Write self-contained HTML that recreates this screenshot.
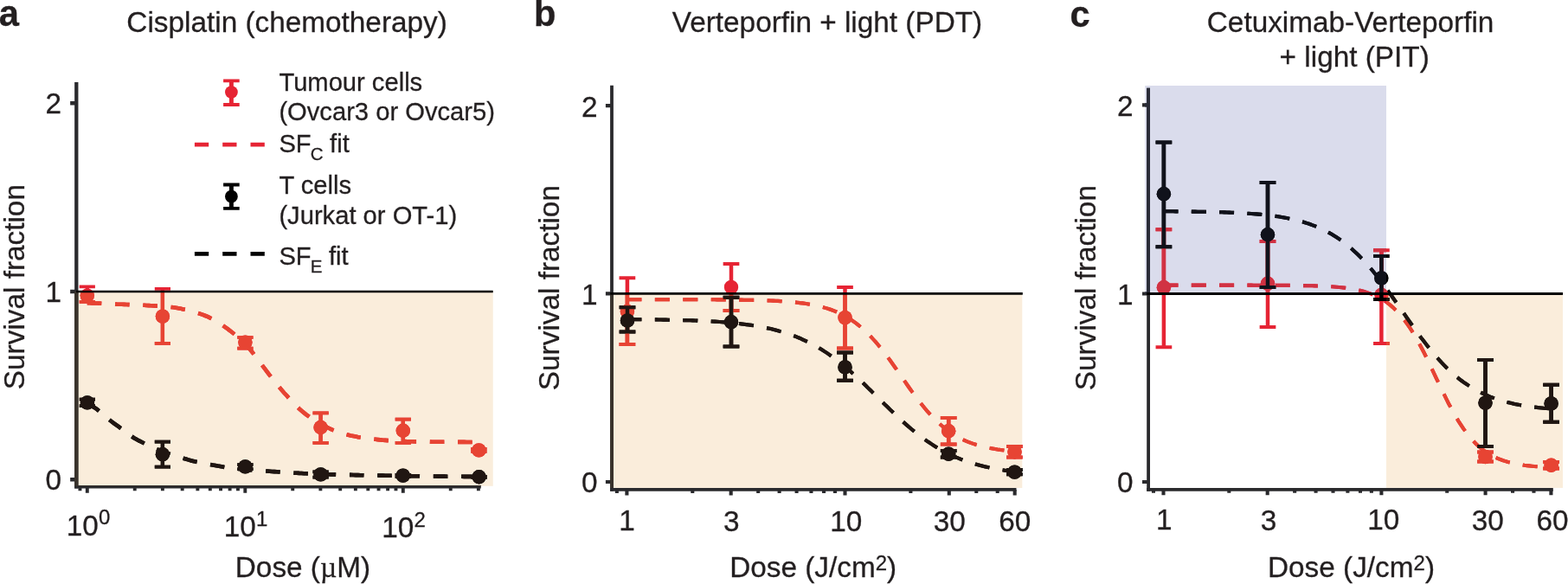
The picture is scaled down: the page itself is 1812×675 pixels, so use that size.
<!DOCTYPE html>
<html lang="en"><head><meta charset="utf-8"><title>Survival fraction vs dose</title>
<style>html,body{margin:0;padding:0;background:#fff}body{width:1812px;height:675px;overflow:hidden}svg{display:block}</style></head>
<body>
<svg width="1812" height="675" viewBox="0 0 1812 675" font-family='"Liberation Sans", sans-serif' fill="#231f20">
<style>.n .R{stroke:#e62434;fill:#e62434}.n .K{stroke:#000000;fill:#000000}.n .A{stroke:#2a2a2d;fill:none}.b .R{stroke:#e74433;fill:#e74433}.b .K{stroke:#201612;fill:#201612}.b .A{stroke:#39332c;fill:none}.l .R{stroke:#d13243;fill:#d13243}.l .K{stroke:#10121b;fill:#10121b}.l .A{stroke:#2a2c38;fill:none}.C{fill:none!important}circle{stroke:none!important}text{stroke:#231f20;stroke-width:.3px}</style>
<rect width="1812" height="675" fill="#fff"/>
<defs><clipPath id="cpa0"><rect x="86" y="337" width="483.70" height="224.80"/></clipPath></defs>
<rect x="86" y="337" width="483.70" height="224.80" fill="#faeddb"/>
<g class="n"><g class="A" stroke-width="4.3"><path d="M88.3,95V564.60"/><path d="M86.15,562.85H555.8" stroke-width="3.5"/><path d="M81.15,554.30H88.3M81.15,337.00H88.3M81.15,119.20H88.3" stroke-width="4.4"/><path d="M100.80,562.85v6.95M283.30,562.85v6.95M465.80,562.85v6.95M92.45,562.85v4.35M155.74,562.85v4.35M187.87,562.85v4.35M210.68,562.85v4.35M228.36,562.85v4.35M242.81,562.85v4.35M255.03,562.85v4.35M265.61,562.85v4.35M274.95,562.85v4.35M338.24,562.85v4.35M370.37,562.85v4.35M393.18,562.85v4.35M410.86,562.85v4.35M425.31,562.85v4.35M437.53,562.85v4.35M448.11,562.85v4.35M457.45,562.85v4.35M520.74,562.85v4.35M552.87,562.85v4.35" stroke-width="3.9"/></g><path class="R C" d="M100.8,350.2 L103.6,350.3 L106.5,350.4 L109.3,350.5 L112.2,350.5 L115.0,350.6 L117.9,350.8 L120.7,350.9 L123.6,351.0 L126.4,351.1 L129.3,351.3 L132.1,351.4 L135.0,351.6 L137.8,351.7 L140.7,351.8 L143.5,351.9 L146.3,352.0 L149.2,352.1 L152.0,352.3 L154.9,352.4 L157.7,352.5 L160.6,352.6 L163.4,352.7 L166.3,352.8 L169.1,353.0 L172.0,353.1 L174.8,353.2 L177.7,353.4 L180.5,353.6 L183.3,353.7 L186.2,353.9 L189.0,354.1 L191.9,354.4 L194.7,354.6 L197.6,355.0 L200.4,355.3 L203.3,355.7 L206.1,356.2 L209.0,356.8 L211.8,357.4 L214.7,358.0 L217.5,358.7 L220.4,359.4 L223.2,360.1 L226.0,361.0 L228.9,361.9 L231.7,362.8 L234.6,363.9 L237.4,365.0 L240.3,366.2 L243.1,367.6 L246.0,369.1 L248.8,370.7 L251.7,372.4 L254.5,374.3 L257.4,376.2 L260.2,378.2 L263.1,380.2 L265.9,382.3 L268.7,384.5 L271.6,386.8 L274.4,389.1 L277.3,391.6 L280.1,394.3 L283.0,397.1 L285.8,400.2 L288.7,403.5 L291.5,407.0 L294.4,410.7 L297.2,414.4 L300.1,418.2 L302.9,422.0 L305.8,425.8 L308.6,429.6 L311.4,433.3 L314.3,437.0 L317.1,440.6 L320.0,444.2 L322.8,447.6 L325.7,450.9 L328.5,454.2 L331.4,457.3 L334.2,460.5 L337.1,463.6 L339.9,466.6 L342.8,469.5 L345.6,472.2 L348.4,474.7 L351.3,477.1 L354.1,479.3 L357.0,481.4 L359.8,483.5 L362.7,485.4 L365.5,487.3 L368.4,489.0 L371.2,490.6 L374.1,492.0 L376.9,493.4 L379.8,494.8 L382.6,496.1 L385.5,497.3 L388.3,498.4 L391.1,499.4 L394.0,500.4 L396.8,501.2 L399.7,502.0 L402.5,502.7 L405.4,503.4 L408.2,504.0 L411.1,504.6 L413.9,505.2 L416.8,505.6 L419.6,506.1 L422.5,506.5 L425.3,506.9 L428.2,507.2 L431.0,507.5 L433.8,507.8 L436.7,508.1 L439.5,508.4 L442.4,508.7 L445.2,508.9 L448.1,509.1 L450.9,509.3 L453.8,509.5 L456.6,509.6 L459.5,509.8 L462.3,509.9 L465.2,510.0 L468.0,510.1 L470.9,510.2 L473.7,510.3 L476.5,510.3 L479.4,510.4 L482.2,510.4 L485.1,510.5 L487.9,510.5 L490.8,510.6 L493.6,510.6 L496.5,510.6 L499.3,510.7 L502.2,510.7 L505.0,510.7 L507.9,510.7 L510.7,510.8 L513.5,510.8 L516.4,510.8 L519.2,510.8 L522.1,510.9 L524.9,510.9 L527.8,510.9 L530.6,510.9 L533.5,510.9 L536.3,510.9 L539.2,511.0 L542.0,511.0 L544.9,511.0 L547.7,511.0 L550.6,511.0 L553.4,511.0" stroke-width="4.6" stroke-dasharray="16.5 15.8" stroke-dashoffset="0"/><path class="K C" d="M100.8,465.8 L103.6,468.1 L106.5,469.5 L109.3,471.2 L112.2,473.2 L115.0,475.5 L117.9,477.9 L120.7,480.4 L123.6,482.8 L126.4,485.2 L129.3,487.5 L132.1,489.6 L135.0,491.7 L137.8,493.7 L140.7,495.8 L143.5,498.0 L146.3,500.2 L149.2,502.3 L152.0,504.3 L154.9,506.2 L157.7,507.8 L160.6,509.4 L163.4,510.8 L166.3,512.2 L169.1,513.6 L172.0,514.9 L174.8,516.2 L177.7,517.5 L180.5,518.8 L183.3,520.0 L186.2,521.2 L189.0,522.3 L191.9,523.3 L194.7,524.3 L197.6,525.3 L200.4,526.2 L203.3,527.1 L206.1,528.0 L209.0,528.9 L211.8,529.7 L214.7,530.5 L217.5,531.4 L220.4,532.2 L223.2,532.9 L226.0,533.6 L228.9,534.2 L231.7,534.8 L234.6,535.4 L237.4,535.9 L240.3,536.4 L243.1,536.9 L246.0,537.5 L248.8,538.0 L251.7,538.6 L254.5,539.1 L257.4,539.6 L260.2,540.1 L263.1,540.5 L265.9,540.8 L268.7,541.2 L271.6,541.5 L274.4,541.8 L277.3,542.0 L280.1,542.3 L283.0,542.6 L285.8,542.8 L288.7,543.1 L291.5,543.3 L294.4,543.5 L297.2,543.7 L300.1,544.0 L302.9,544.2 L305.8,544.4 L308.6,544.6 L311.4,544.8 L314.3,545.0 L317.1,545.1 L320.0,545.3 L322.8,545.5 L325.7,545.7 L328.5,545.9 L331.4,546.1 L334.2,546.2 L337.1,546.4 L339.9,546.6 L342.8,546.7 L345.6,546.9 L348.4,547.0 L351.3,547.2 L354.1,547.3 L357.0,547.5 L359.8,547.6 L362.7,547.7 L365.5,547.8 L368.4,547.9 L371.2,548.0 L374.1,548.1 L376.9,548.2 L379.8,548.3 L382.6,548.4 L385.5,548.4 L388.3,548.5 L391.1,548.6 L394.0,548.7 L396.8,548.7 L399.7,548.8 L402.5,548.9 L405.4,548.9 L408.2,549.0 L411.1,549.1 L413.9,549.1 L416.8,549.2 L419.6,549.2 L422.5,549.3 L425.3,549.3 L428.2,549.4 L431.0,549.4 L433.8,549.5 L436.7,549.5 L439.5,549.6 L442.4,549.6 L445.2,549.7 L448.1,549.7 L450.9,549.8 L453.8,549.8 L456.6,549.9 L459.5,549.9 L462.3,549.9 L465.2,550.0 L468.0,550.0 L470.9,550.1 L473.7,550.1 L476.5,550.2 L479.4,550.2 L482.2,550.2 L485.1,550.3 L487.9,550.3 L490.8,550.4 L493.6,550.4 L496.5,550.4 L499.3,550.5 L502.2,550.5 L505.0,550.5 L507.9,550.6 L510.7,550.6 L513.5,550.6 L516.4,550.7 L519.2,550.7 L522.1,550.7 L524.9,550.8 L527.8,550.8 L530.6,550.8 L533.5,550.8 L536.3,550.9 L539.2,550.9 L542.0,550.9 L544.9,550.9 L547.7,551.0 L550.6,551.0 L553.4,551.0" stroke-width="4.6" stroke-dasharray="16.5 15.8" stroke-dashoffset="0"/><g class="R"><path d="M100.8,331.3V348.9" stroke-width="4.3"/><path d="M91.70,331.3h18.2M91.70,348.9h18.2" stroke-width="3.7"/><circle cx="100.8" cy="341.6" r="8.2"/></g><g class="R"><path d="M187.9,333.9V396.8" stroke-width="4.3"/><path d="M178.80,333.9h18.2M178.80,396.8h18.2" stroke-width="3.7"/><circle cx="187.9" cy="365.6" r="8.2"/></g><g class="R"><path d="M283.4,390V402.6" stroke-width="4.3"/><path d="M274.30,390h18.2M274.30,402.6h18.2" stroke-width="3.7"/><circle cx="283.4" cy="395.6" r="8.2"/></g><g class="R"><path d="M370.6,477.4V511.9" stroke-width="4.3"/><path d="M361.50,477.4h18.2M361.50,511.9h18.2" stroke-width="3.7"/><circle cx="370.6" cy="494" r="8.2"/></g><g class="R"><path d="M465.8,484.7V511.9" stroke-width="4.3"/><path d="M456.70,484.7h18.2M456.70,511.9h18.2" stroke-width="3.7"/><circle cx="465.8" cy="497.7" r="8.2"/></g><g class="R"><path d="M553.4,518.9V521.9" stroke-width="4.3"/><path d="M544.30,518.9h18.2M544.30,521.9h18.2" stroke-width="3.7"/><circle cx="553.4" cy="520.4" r="8.2"/></g><g class="K"><path d="M100.9,461.7V469.1" stroke-width="4.3"/><path d="M91.80,461.7h18.2M91.80,469.1h18.2" stroke-width="3.7"/><circle cx="100.9" cy="465.4" r="8.2"/></g><g class="K"><path d="M187.9,510.7V539.6" stroke-width="4.3"/><path d="M178.80,510.7h18.2M178.80,539.6h18.2" stroke-width="3.7"/><circle cx="187.9" cy="525.3" r="8.2"/></g><g class="K"><path d="M283.4,537.0V542.2" stroke-width="4.3"/><path d="M274.30,537.0h18.2M274.30,542.2h18.2" stroke-width="3.7"/><circle cx="283.4" cy="539.4" r="8.2"/></g><g class="K"><path d="M370.6,545.3V551.6" stroke-width="4.3"/><path d="M361.50,545.3h18.2M361.50,551.6h18.2" stroke-width="3.7"/><circle cx="370.6" cy="548.4" r="8.2"/></g><g class="K"><path d="M465.75,548.9V550.9" stroke-width="4.3"/><path d="M456.65,548.9h18.2M456.65,550.9h18.2" stroke-width="3.7"/><circle cx="465.75" cy="549.6" r="8.2"/></g><g class="K"><path d="M553.6,550.8V551.8" stroke-width="4.3"/><path d="M544.50,550.8h18.2M544.50,551.8h18.2" stroke-width="3.7"/><circle cx="553.6" cy="551.3" r="8.2"/></g></g>
<g class="b" clip-path="url(#cpa0)"><g class="A" stroke-width="4.3"><path d="M88.3,95V564.60"/><path d="M86.15,562.85H555.8" stroke-width="3.5"/><path d="M81.15,554.30H88.3M81.15,337.00H88.3M81.15,119.20H88.3" stroke-width="4.4"/><path d="M100.80,562.85v6.95M283.30,562.85v6.95M465.80,562.85v6.95M92.45,562.85v4.35M155.74,562.85v4.35M187.87,562.85v4.35M210.68,562.85v4.35M228.36,562.85v4.35M242.81,562.85v4.35M255.03,562.85v4.35M265.61,562.85v4.35M274.95,562.85v4.35M338.24,562.85v4.35M370.37,562.85v4.35M393.18,562.85v4.35M410.86,562.85v4.35M425.31,562.85v4.35M437.53,562.85v4.35M448.11,562.85v4.35M457.45,562.85v4.35M520.74,562.85v4.35M552.87,562.85v4.35" stroke-width="3.9"/></g><path class="R C" d="M100.8,350.2 L103.6,350.3 L106.5,350.4 L109.3,350.5 L112.2,350.5 L115.0,350.6 L117.9,350.8 L120.7,350.9 L123.6,351.0 L126.4,351.1 L129.3,351.3 L132.1,351.4 L135.0,351.6 L137.8,351.7 L140.7,351.8 L143.5,351.9 L146.3,352.0 L149.2,352.1 L152.0,352.3 L154.9,352.4 L157.7,352.5 L160.6,352.6 L163.4,352.7 L166.3,352.8 L169.1,353.0 L172.0,353.1 L174.8,353.2 L177.7,353.4 L180.5,353.6 L183.3,353.7 L186.2,353.9 L189.0,354.1 L191.9,354.4 L194.7,354.6 L197.6,355.0 L200.4,355.3 L203.3,355.7 L206.1,356.2 L209.0,356.8 L211.8,357.4 L214.7,358.0 L217.5,358.7 L220.4,359.4 L223.2,360.1 L226.0,361.0 L228.9,361.9 L231.7,362.8 L234.6,363.9 L237.4,365.0 L240.3,366.2 L243.1,367.6 L246.0,369.1 L248.8,370.7 L251.7,372.4 L254.5,374.3 L257.4,376.2 L260.2,378.2 L263.1,380.2 L265.9,382.3 L268.7,384.5 L271.6,386.8 L274.4,389.1 L277.3,391.6 L280.1,394.3 L283.0,397.1 L285.8,400.2 L288.7,403.5 L291.5,407.0 L294.4,410.7 L297.2,414.4 L300.1,418.2 L302.9,422.0 L305.8,425.8 L308.6,429.6 L311.4,433.3 L314.3,437.0 L317.1,440.6 L320.0,444.2 L322.8,447.6 L325.7,450.9 L328.5,454.2 L331.4,457.3 L334.2,460.5 L337.1,463.6 L339.9,466.6 L342.8,469.5 L345.6,472.2 L348.4,474.7 L351.3,477.1 L354.1,479.3 L357.0,481.4 L359.8,483.5 L362.7,485.4 L365.5,487.3 L368.4,489.0 L371.2,490.6 L374.1,492.0 L376.9,493.4 L379.8,494.8 L382.6,496.1 L385.5,497.3 L388.3,498.4 L391.1,499.4 L394.0,500.4 L396.8,501.2 L399.7,502.0 L402.5,502.7 L405.4,503.4 L408.2,504.0 L411.1,504.6 L413.9,505.2 L416.8,505.6 L419.6,506.1 L422.5,506.5 L425.3,506.9 L428.2,507.2 L431.0,507.5 L433.8,507.8 L436.7,508.1 L439.5,508.4 L442.4,508.7 L445.2,508.9 L448.1,509.1 L450.9,509.3 L453.8,509.5 L456.6,509.6 L459.5,509.8 L462.3,509.9 L465.2,510.0 L468.0,510.1 L470.9,510.2 L473.7,510.3 L476.5,510.3 L479.4,510.4 L482.2,510.4 L485.1,510.5 L487.9,510.5 L490.8,510.6 L493.6,510.6 L496.5,510.6 L499.3,510.7 L502.2,510.7 L505.0,510.7 L507.9,510.7 L510.7,510.8 L513.5,510.8 L516.4,510.8 L519.2,510.8 L522.1,510.9 L524.9,510.9 L527.8,510.9 L530.6,510.9 L533.5,510.9 L536.3,510.9 L539.2,511.0 L542.0,511.0 L544.9,511.0 L547.7,511.0 L550.6,511.0 L553.4,511.0" stroke-width="4.6" stroke-dasharray="16.5 15.8" stroke-dashoffset="0"/><path class="K C" d="M100.8,465.8 L103.6,468.1 L106.5,469.5 L109.3,471.2 L112.2,473.2 L115.0,475.5 L117.9,477.9 L120.7,480.4 L123.6,482.8 L126.4,485.2 L129.3,487.5 L132.1,489.6 L135.0,491.7 L137.8,493.7 L140.7,495.8 L143.5,498.0 L146.3,500.2 L149.2,502.3 L152.0,504.3 L154.9,506.2 L157.7,507.8 L160.6,509.4 L163.4,510.8 L166.3,512.2 L169.1,513.6 L172.0,514.9 L174.8,516.2 L177.7,517.5 L180.5,518.8 L183.3,520.0 L186.2,521.2 L189.0,522.3 L191.9,523.3 L194.7,524.3 L197.6,525.3 L200.4,526.2 L203.3,527.1 L206.1,528.0 L209.0,528.9 L211.8,529.7 L214.7,530.5 L217.5,531.4 L220.4,532.2 L223.2,532.9 L226.0,533.6 L228.9,534.2 L231.7,534.8 L234.6,535.4 L237.4,535.9 L240.3,536.4 L243.1,536.9 L246.0,537.5 L248.8,538.0 L251.7,538.6 L254.5,539.1 L257.4,539.6 L260.2,540.1 L263.1,540.5 L265.9,540.8 L268.7,541.2 L271.6,541.5 L274.4,541.8 L277.3,542.0 L280.1,542.3 L283.0,542.6 L285.8,542.8 L288.7,543.1 L291.5,543.3 L294.4,543.5 L297.2,543.7 L300.1,544.0 L302.9,544.2 L305.8,544.4 L308.6,544.6 L311.4,544.8 L314.3,545.0 L317.1,545.1 L320.0,545.3 L322.8,545.5 L325.7,545.7 L328.5,545.9 L331.4,546.1 L334.2,546.2 L337.1,546.4 L339.9,546.6 L342.8,546.7 L345.6,546.9 L348.4,547.0 L351.3,547.2 L354.1,547.3 L357.0,547.5 L359.8,547.6 L362.7,547.7 L365.5,547.8 L368.4,547.9 L371.2,548.0 L374.1,548.1 L376.9,548.2 L379.8,548.3 L382.6,548.4 L385.5,548.4 L388.3,548.5 L391.1,548.6 L394.0,548.7 L396.8,548.7 L399.7,548.8 L402.5,548.9 L405.4,548.9 L408.2,549.0 L411.1,549.1 L413.9,549.1 L416.8,549.2 L419.6,549.2 L422.5,549.3 L425.3,549.3 L428.2,549.4 L431.0,549.4 L433.8,549.5 L436.7,549.5 L439.5,549.6 L442.4,549.6 L445.2,549.7 L448.1,549.7 L450.9,549.8 L453.8,549.8 L456.6,549.9 L459.5,549.9 L462.3,549.9 L465.2,550.0 L468.0,550.0 L470.9,550.1 L473.7,550.1 L476.5,550.2 L479.4,550.2 L482.2,550.2 L485.1,550.3 L487.9,550.3 L490.8,550.4 L493.6,550.4 L496.5,550.4 L499.3,550.5 L502.2,550.5 L505.0,550.5 L507.9,550.6 L510.7,550.6 L513.5,550.6 L516.4,550.7 L519.2,550.7 L522.1,550.7 L524.9,550.8 L527.8,550.8 L530.6,550.8 L533.5,550.8 L536.3,550.9 L539.2,550.9 L542.0,550.9 L544.9,550.9 L547.7,551.0 L550.6,551.0 L553.4,551.0" stroke-width="4.6" stroke-dasharray="16.5 15.8" stroke-dashoffset="0"/><g class="R"><path d="M100.8,331.3V348.9" stroke-width="4.3"/><path d="M91.70,331.3h18.2M91.70,348.9h18.2" stroke-width="3.7"/><circle cx="100.8" cy="341.6" r="8.2"/></g><g class="R"><path d="M187.9,333.9V396.8" stroke-width="4.3"/><path d="M178.80,333.9h18.2M178.80,396.8h18.2" stroke-width="3.7"/><circle cx="187.9" cy="365.6" r="8.2"/></g><g class="R"><path d="M283.4,390V402.6" stroke-width="4.3"/><path d="M274.30,390h18.2M274.30,402.6h18.2" stroke-width="3.7"/><circle cx="283.4" cy="395.6" r="8.2"/></g><g class="R"><path d="M370.6,477.4V511.9" stroke-width="4.3"/><path d="M361.50,477.4h18.2M361.50,511.9h18.2" stroke-width="3.7"/><circle cx="370.6" cy="494" r="8.2"/></g><g class="R"><path d="M465.8,484.7V511.9" stroke-width="4.3"/><path d="M456.70,484.7h18.2M456.70,511.9h18.2" stroke-width="3.7"/><circle cx="465.8" cy="497.7" r="8.2"/></g><g class="R"><path d="M553.4,518.9V521.9" stroke-width="4.3"/><path d="M544.30,518.9h18.2M544.30,521.9h18.2" stroke-width="3.7"/><circle cx="553.4" cy="520.4" r="8.2"/></g><g class="K"><path d="M100.9,461.7V469.1" stroke-width="4.3"/><path d="M91.80,461.7h18.2M91.80,469.1h18.2" stroke-width="3.7"/><circle cx="100.9" cy="465.4" r="8.2"/></g><g class="K"><path d="M187.9,510.7V539.6" stroke-width="4.3"/><path d="M178.80,510.7h18.2M178.80,539.6h18.2" stroke-width="3.7"/><circle cx="187.9" cy="525.3" r="8.2"/></g><g class="K"><path d="M283.4,537.0V542.2" stroke-width="4.3"/><path d="M274.30,537.0h18.2M274.30,542.2h18.2" stroke-width="3.7"/><circle cx="283.4" cy="539.4" r="8.2"/></g><g class="K"><path d="M370.6,545.3V551.6" stroke-width="4.3"/><path d="M361.50,545.3h18.2M361.50,551.6h18.2" stroke-width="3.7"/><circle cx="370.6" cy="548.4" r="8.2"/></g><g class="K"><path d="M465.75,548.9V550.9" stroke-width="4.3"/><path d="M456.65,548.9h18.2M456.65,550.9h18.2" stroke-width="3.7"/><circle cx="465.75" cy="549.6" r="8.2"/></g><g class="K"><path d="M553.6,550.8V551.8" stroke-width="4.3"/><path d="M544.50,550.8h18.2M544.50,551.8h18.2" stroke-width="3.7"/><circle cx="553.6" cy="551.3" r="8.2"/></g></g>
<path d="M88.2,337.0H569.7" stroke="#000" stroke-width="2.4"/>
<text transform="translate(71,565.9) scale(1,1)" font-size="33.33" text-anchor="end">0</text>
<text transform="translate(71,348.6) scale(1,1)" font-size="33.33" text-anchor="end">1</text>
<text transform="translate(71,130.8) scale(1,1)" font-size="33.33" text-anchor="end">2</text>
<text transform="translate(28.1,331.6) rotate(-90) scale(1,1)" font-size="33.33" text-anchor="middle">Survival fraction</text>
<defs><clipPath id="cpb0"><rect x="705.2" y="339.4" width="476.10" height="224.60"/></clipPath></defs>
<rect x="705.2" y="339.4" width="476.10" height="224.60" fill="#faeddb"/>
<g class="n"><g class="A" stroke-width="3.8"><path d="M707,98.7V567.80"/><path d="M705.10,565.9H1174.5" stroke-width="3.8"/><path d="M699.90,557.00H707M699.90,339.40H707M699.90,122.20H707" stroke-width="4.2"/><path d="M724.40,565.9v6.50M844.68,565.9v6.50M976.50,565.9v6.50M1096.78,565.9v6.50M1172.67,565.9v6.50M712.86,565.9v4.00M800.29,565.9v4.00M876.18,565.9v4.00M900.61,565.9v4.00M920.57,565.9v4.00M937.45,565.9v4.00M952.07,565.9v4.00M964.96,565.9v4.00M1052.39,565.9v4.00M1128.28,565.9v4.00M1152.71,565.9v4.00" stroke-width="4.1"/></g><path class="R C" d="M724.4,346.2 L727.2,346.2 L730.0,346.2 L732.9,346.2 L735.7,346.2 L738.5,346.2 L741.3,346.2 L744.1,346.2 L746.9,346.2 L749.8,346.2 L752.6,346.2 L755.4,346.2 L758.2,346.2 L761.0,346.2 L763.9,346.2 L766.7,346.2 L769.5,346.2 L772.3,346.2 L775.1,346.2 L777.9,346.2 L780.8,346.2 L783.6,346.2 L786.4,346.2 L789.2,346.2 L792.0,346.2 L794.9,346.2 L797.7,346.3 L800.5,346.3 L803.3,346.3 L806.1,346.3 L808.9,346.3 L811.8,346.3 L814.6,346.3 L817.4,346.3 L820.2,346.3 L823.0,346.3 L825.9,346.3 L828.7,346.4 L831.5,346.4 L834.3,346.4 L837.1,346.4 L839.9,346.4 L842.8,346.5 L845.6,346.5 L848.4,346.5 L851.2,346.6 L854.0,346.6 L856.9,346.6 L859.7,346.7 L862.5,346.7 L865.3,346.8 L868.1,346.8 L870.9,346.9 L873.8,346.9 L876.6,347.0 L879.4,347.1 L882.2,347.2 L885.0,347.3 L887.9,347.4 L890.7,347.5 L893.5,347.6 L896.3,347.8 L899.1,347.9 L901.9,348.1 L904.8,348.3 L907.6,348.4 L910.4,348.7 L913.2,348.9 L916.0,349.1 L918.9,349.4 L921.7,349.7 L924.5,350.1 L927.3,350.4 L930.1,350.8 L932.9,351.2 L935.8,351.7 L938.6,352.2 L941.4,352.8 L944.2,353.4 L947.0,354.1 L949.9,354.8 L952.7,355.6 L955.5,356.4 L958.3,357.3 L961.1,358.3 L964.0,359.4 L966.8,360.5 L969.6,361.8 L972.4,363.2 L975.2,364.6 L978.0,366.2 L980.9,367.9 L983.7,369.7 L986.5,371.6 L989.3,373.7 L992.1,375.9 L995.0,378.2 L997.8,380.7 L1000.6,383.3 L1003.4,386.0 L1006.2,388.9 L1009.0,392.0 L1011.9,395.2 L1014.7,398.5 L1017.5,401.9 L1020.3,405.5 L1023.1,409.1 L1026.0,412.9 L1028.8,416.8 L1031.6,420.7 L1034.4,424.7 L1037.2,428.7 L1040.0,432.8 L1042.9,436.9 L1045.7,440.9 L1048.5,445.0 L1051.3,449.0 L1054.1,452.9 L1057.0,456.8 L1059.8,460.6 L1062.6,464.3 L1065.4,467.8 L1068.2,471.3 L1071.0,474.6 L1073.9,477.8 L1076.7,480.9 L1079.5,483.8 L1082.3,486.6 L1085.1,489.3 L1088.0,491.8 L1090.8,494.1 L1093.6,496.3 L1096.4,498.4 L1099.2,500.4 L1102.0,502.2 L1104.9,503.9 L1107.7,505.5 L1110.5,506.9 L1113.3,508.3 L1116.1,509.6 L1119.0,510.8 L1121.8,511.9 L1124.6,512.9 L1127.4,513.8 L1130.2,514.7 L1133.0,515.4 L1135.9,516.2 L1138.7,516.8 L1141.5,517.5 L1144.3,518.0 L1147.1,518.5 L1150.0,519.0 L1152.8,519.5 L1155.6,519.9 L1158.4,520.2 L1161.2,520.6 L1164.0,520.9 L1166.9,521.1 L1169.7,521.4 L1172.5,521.6" stroke-width="4.1" stroke-dasharray="17 15.45" stroke-dashoffset="0"/><path class="K C" d="M724.4,369.1 L727.2,369.1 L730.0,369.1 L732.9,369.1 L735.7,369.2 L738.5,369.2 L741.3,369.2 L744.1,369.2 L746.9,369.3 L749.8,369.3 L752.6,369.3 L755.4,369.4 L758.2,369.4 L761.0,369.5 L763.9,369.5 L766.7,369.6 L769.5,369.6 L772.3,369.7 L775.1,369.7 L777.9,369.8 L780.8,369.8 L783.6,369.9 L786.4,370.0 L789.2,370.1 L792.0,370.1 L794.9,370.2 L797.7,370.3 L800.5,370.4 L803.3,370.5 L806.1,370.6 L808.9,370.8 L811.8,370.9 L814.6,371.0 L817.4,371.2 L820.2,371.3 L823.0,371.5 L825.9,371.6 L828.7,371.8 L831.5,372.0 L834.3,372.2 L837.1,372.4 L839.9,372.7 L842.8,372.9 L845.6,373.2 L848.4,373.4 L851.2,373.7 L854.0,374.0 L856.9,374.4 L859.7,374.7 L862.5,375.1 L865.3,375.5 L868.1,375.9 L870.9,376.3 L873.8,376.8 L876.6,377.3 L879.4,377.8 L882.2,378.3 L885.0,378.9 L887.9,379.5 L890.7,380.1 L893.5,380.8 L896.3,381.5 L899.1,382.3 L901.9,383.1 L904.8,383.9 L907.6,384.8 L910.4,385.7 L913.2,386.7 L916.0,387.7 L918.9,388.7 L921.7,389.9 L924.5,391.0 L927.3,392.3 L930.1,393.6 L932.9,394.9 L935.8,396.3 L938.6,397.8 L941.4,399.3 L944.2,400.9 L947.0,402.6 L949.9,404.3 L952.7,406.1 L955.5,407.9 L958.3,409.9 L961.1,411.9 L964.0,413.9 L966.8,416.0 L969.6,418.2 L972.4,420.5 L975.2,422.8 L978.0,425.1 L980.9,427.6 L983.7,430.0 L986.5,432.6 L989.3,435.1 L992.1,437.7 L995.0,440.4 L997.8,443.1 L1000.6,445.8 L1003.4,448.6 L1006.2,451.3 L1009.0,454.1 L1011.9,456.9 L1014.7,459.7 L1017.5,462.5 L1020.3,465.3 L1023.1,468.1 L1026.0,470.8 L1028.8,473.6 L1031.6,476.3 L1034.4,479.0 L1037.2,481.7 L1040.0,484.3 L1042.9,486.9 L1045.7,489.4 L1048.5,491.9 L1051.3,494.3 L1054.1,496.7 L1057.0,499.0 L1059.8,501.2 L1062.6,503.4 L1065.4,505.5 L1068.2,507.6 L1071.0,509.6 L1073.9,511.5 L1076.7,513.4 L1079.5,515.2 L1082.3,516.9 L1085.1,518.6 L1088.0,520.2 L1090.8,521.7 L1093.6,523.2 L1096.4,524.6 L1099.2,526.0 L1102.0,527.2 L1104.9,528.5 L1107.7,529.7 L1110.5,530.8 L1113.3,531.9 L1116.1,532.9 L1119.0,533.8 L1121.8,534.8 L1124.6,535.7 L1127.4,536.5 L1130.2,537.3 L1133.0,538.0 L1135.9,538.7 L1138.7,539.4 L1141.5,540.1 L1144.3,540.7 L1147.1,541.2 L1150.0,541.8 L1152.8,542.3 L1155.6,542.8 L1158.4,543.3 L1161.2,543.7 L1164.0,544.1 L1166.9,544.5 L1169.7,544.9 L1172.5,545.2" stroke-width="4.1" stroke-dasharray="17 15.45" stroke-dashoffset="0"/><g class="R"><path d="M724.9,321.3V398.1" stroke-width="4.5"/><path d="M715.55,321.3h18.7M715.55,398.1h18.7" stroke-width="4.0"/><circle cx="724.9" cy="360" r="8.2"/></g><g class="R"><path d="M845,304.9V359" stroke-width="4.5"/><path d="M835.65,304.9h18.7M835.65,359h18.7" stroke-width="4.0"/><circle cx="845" cy="331.9" r="8.2"/></g><g class="R"><path d="M976.5,332.1V402.4" stroke-width="4.5"/><path d="M967.15,332.1h18.7M967.15,402.4h18.7" stroke-width="4.0"/><circle cx="976.5" cy="367.1" r="8.2"/></g><g class="R"><path d="M1096.2,483.1V513.4" stroke-width="4.5"/><path d="M1086.85,483.1h18.7M1086.85,513.4h18.7" stroke-width="4.0"/><circle cx="1096.2" cy="498.2" r="8.2"/></g><g class="R"><path d="M1172.5,515.9V528.5" stroke-width="4.5"/><path d="M1163.15,515.9h18.7M1163.15,528.5h18.7" stroke-width="4.0"/><circle cx="1172.5" cy="522.2" r="8.2"/></g><g class="K"><path d="M725,355.3V383.5" stroke-width="4.5"/><path d="M715.65,355.3h18.7M715.65,383.5h18.7" stroke-width="4.0"/><circle cx="725" cy="370.4" r="8.2"/></g><g class="K"><path d="M845,343.7V400.6" stroke-width="4.5"/><path d="M835.65,343.7h18.7M835.65,400.6h18.7" stroke-width="4.0"/><circle cx="845" cy="372.2" r="8.2"/></g><g class="K"><path d="M976.5,407.6V439.8" stroke-width="4.5"/><path d="M967.15,407.6h18.7M967.15,439.8h18.7" stroke-width="4.0"/><circle cx="976.5" cy="424.4" r="8.2"/></g><g class="K"><path d="M1096.2,521V528.4" stroke-width="4.5"/><path d="M1086.85,521h18.7M1086.85,528.4h18.7" stroke-width="4.0"/><circle cx="1096.2" cy="524.7" r="8.2"/></g><g class="K"><path d="M1172.5,543V548.2" stroke-width="4.5"/><path d="M1163.15,543h18.7M1163.15,548.2h18.7" stroke-width="4.0"/><circle cx="1172.5" cy="545.6" r="8.2"/></g></g>
<g class="b" clip-path="url(#cpb0)"><g class="A" stroke-width="3.8"><path d="M707,98.7V567.80"/><path d="M705.10,565.9H1174.5" stroke-width="3.8"/><path d="M699.90,557.00H707M699.90,339.40H707M699.90,122.20H707" stroke-width="4.2"/><path d="M724.40,565.9v6.50M844.68,565.9v6.50M976.50,565.9v6.50M1096.78,565.9v6.50M1172.67,565.9v6.50M712.86,565.9v4.00M800.29,565.9v4.00M876.18,565.9v4.00M900.61,565.9v4.00M920.57,565.9v4.00M937.45,565.9v4.00M952.07,565.9v4.00M964.96,565.9v4.00M1052.39,565.9v4.00M1128.28,565.9v4.00M1152.71,565.9v4.00" stroke-width="4.1"/></g><path class="R C" d="M724.4,346.2 L727.2,346.2 L730.0,346.2 L732.9,346.2 L735.7,346.2 L738.5,346.2 L741.3,346.2 L744.1,346.2 L746.9,346.2 L749.8,346.2 L752.6,346.2 L755.4,346.2 L758.2,346.2 L761.0,346.2 L763.9,346.2 L766.7,346.2 L769.5,346.2 L772.3,346.2 L775.1,346.2 L777.9,346.2 L780.8,346.2 L783.6,346.2 L786.4,346.2 L789.2,346.2 L792.0,346.2 L794.9,346.2 L797.7,346.3 L800.5,346.3 L803.3,346.3 L806.1,346.3 L808.9,346.3 L811.8,346.3 L814.6,346.3 L817.4,346.3 L820.2,346.3 L823.0,346.3 L825.9,346.3 L828.7,346.4 L831.5,346.4 L834.3,346.4 L837.1,346.4 L839.9,346.4 L842.8,346.5 L845.6,346.5 L848.4,346.5 L851.2,346.6 L854.0,346.6 L856.9,346.6 L859.7,346.7 L862.5,346.7 L865.3,346.8 L868.1,346.8 L870.9,346.9 L873.8,346.9 L876.6,347.0 L879.4,347.1 L882.2,347.2 L885.0,347.3 L887.9,347.4 L890.7,347.5 L893.5,347.6 L896.3,347.8 L899.1,347.9 L901.9,348.1 L904.8,348.3 L907.6,348.4 L910.4,348.7 L913.2,348.9 L916.0,349.1 L918.9,349.4 L921.7,349.7 L924.5,350.1 L927.3,350.4 L930.1,350.8 L932.9,351.2 L935.8,351.7 L938.6,352.2 L941.4,352.8 L944.2,353.4 L947.0,354.1 L949.9,354.8 L952.7,355.6 L955.5,356.4 L958.3,357.3 L961.1,358.3 L964.0,359.4 L966.8,360.5 L969.6,361.8 L972.4,363.2 L975.2,364.6 L978.0,366.2 L980.9,367.9 L983.7,369.7 L986.5,371.6 L989.3,373.7 L992.1,375.9 L995.0,378.2 L997.8,380.7 L1000.6,383.3 L1003.4,386.0 L1006.2,388.9 L1009.0,392.0 L1011.9,395.2 L1014.7,398.5 L1017.5,401.9 L1020.3,405.5 L1023.1,409.1 L1026.0,412.9 L1028.8,416.8 L1031.6,420.7 L1034.4,424.7 L1037.2,428.7 L1040.0,432.8 L1042.9,436.9 L1045.7,440.9 L1048.5,445.0 L1051.3,449.0 L1054.1,452.9 L1057.0,456.8 L1059.8,460.6 L1062.6,464.3 L1065.4,467.8 L1068.2,471.3 L1071.0,474.6 L1073.9,477.8 L1076.7,480.9 L1079.5,483.8 L1082.3,486.6 L1085.1,489.3 L1088.0,491.8 L1090.8,494.1 L1093.6,496.3 L1096.4,498.4 L1099.2,500.4 L1102.0,502.2 L1104.9,503.9 L1107.7,505.5 L1110.5,506.9 L1113.3,508.3 L1116.1,509.6 L1119.0,510.8 L1121.8,511.9 L1124.6,512.9 L1127.4,513.8 L1130.2,514.7 L1133.0,515.4 L1135.9,516.2 L1138.7,516.8 L1141.5,517.5 L1144.3,518.0 L1147.1,518.5 L1150.0,519.0 L1152.8,519.5 L1155.6,519.9 L1158.4,520.2 L1161.2,520.6 L1164.0,520.9 L1166.9,521.1 L1169.7,521.4 L1172.5,521.6" stroke-width="4.1" stroke-dasharray="17 15.45" stroke-dashoffset="0"/><path class="K C" d="M724.4,369.1 L727.2,369.1 L730.0,369.1 L732.9,369.1 L735.7,369.2 L738.5,369.2 L741.3,369.2 L744.1,369.2 L746.9,369.3 L749.8,369.3 L752.6,369.3 L755.4,369.4 L758.2,369.4 L761.0,369.5 L763.9,369.5 L766.7,369.6 L769.5,369.6 L772.3,369.7 L775.1,369.7 L777.9,369.8 L780.8,369.8 L783.6,369.9 L786.4,370.0 L789.2,370.1 L792.0,370.1 L794.9,370.2 L797.7,370.3 L800.5,370.4 L803.3,370.5 L806.1,370.6 L808.9,370.8 L811.8,370.9 L814.6,371.0 L817.4,371.2 L820.2,371.3 L823.0,371.5 L825.9,371.6 L828.7,371.8 L831.5,372.0 L834.3,372.2 L837.1,372.4 L839.9,372.7 L842.8,372.9 L845.6,373.2 L848.4,373.4 L851.2,373.7 L854.0,374.0 L856.9,374.4 L859.7,374.7 L862.5,375.1 L865.3,375.5 L868.1,375.9 L870.9,376.3 L873.8,376.8 L876.6,377.3 L879.4,377.8 L882.2,378.3 L885.0,378.9 L887.9,379.5 L890.7,380.1 L893.5,380.8 L896.3,381.5 L899.1,382.3 L901.9,383.1 L904.8,383.9 L907.6,384.8 L910.4,385.7 L913.2,386.7 L916.0,387.7 L918.9,388.7 L921.7,389.9 L924.5,391.0 L927.3,392.3 L930.1,393.6 L932.9,394.9 L935.8,396.3 L938.6,397.8 L941.4,399.3 L944.2,400.9 L947.0,402.6 L949.9,404.3 L952.7,406.1 L955.5,407.9 L958.3,409.9 L961.1,411.9 L964.0,413.9 L966.8,416.0 L969.6,418.2 L972.4,420.5 L975.2,422.8 L978.0,425.1 L980.9,427.6 L983.7,430.0 L986.5,432.6 L989.3,435.1 L992.1,437.7 L995.0,440.4 L997.8,443.1 L1000.6,445.8 L1003.4,448.6 L1006.2,451.3 L1009.0,454.1 L1011.9,456.9 L1014.7,459.7 L1017.5,462.5 L1020.3,465.3 L1023.1,468.1 L1026.0,470.8 L1028.8,473.6 L1031.6,476.3 L1034.4,479.0 L1037.2,481.7 L1040.0,484.3 L1042.9,486.9 L1045.7,489.4 L1048.5,491.9 L1051.3,494.3 L1054.1,496.7 L1057.0,499.0 L1059.8,501.2 L1062.6,503.4 L1065.4,505.5 L1068.2,507.6 L1071.0,509.6 L1073.9,511.5 L1076.7,513.4 L1079.5,515.2 L1082.3,516.9 L1085.1,518.6 L1088.0,520.2 L1090.8,521.7 L1093.6,523.2 L1096.4,524.6 L1099.2,526.0 L1102.0,527.2 L1104.9,528.5 L1107.7,529.7 L1110.5,530.8 L1113.3,531.9 L1116.1,532.9 L1119.0,533.8 L1121.8,534.8 L1124.6,535.7 L1127.4,536.5 L1130.2,537.3 L1133.0,538.0 L1135.9,538.7 L1138.7,539.4 L1141.5,540.1 L1144.3,540.7 L1147.1,541.2 L1150.0,541.8 L1152.8,542.3 L1155.6,542.8 L1158.4,543.3 L1161.2,543.7 L1164.0,544.1 L1166.9,544.5 L1169.7,544.9 L1172.5,545.2" stroke-width="4.1" stroke-dasharray="17 15.45" stroke-dashoffset="0"/><g class="R"><path d="M724.9,321.3V398.1" stroke-width="4.5"/><path d="M715.55,321.3h18.7M715.55,398.1h18.7" stroke-width="4.0"/><circle cx="724.9" cy="360" r="8.2"/></g><g class="R"><path d="M845,304.9V359" stroke-width="4.5"/><path d="M835.65,304.9h18.7M835.65,359h18.7" stroke-width="4.0"/><circle cx="845" cy="331.9" r="8.2"/></g><g class="R"><path d="M976.5,332.1V402.4" stroke-width="4.5"/><path d="M967.15,332.1h18.7M967.15,402.4h18.7" stroke-width="4.0"/><circle cx="976.5" cy="367.1" r="8.2"/></g><g class="R"><path d="M1096.2,483.1V513.4" stroke-width="4.5"/><path d="M1086.85,483.1h18.7M1086.85,513.4h18.7" stroke-width="4.0"/><circle cx="1096.2" cy="498.2" r="8.2"/></g><g class="R"><path d="M1172.5,515.9V528.5" stroke-width="4.5"/><path d="M1163.15,515.9h18.7M1163.15,528.5h18.7" stroke-width="4.0"/><circle cx="1172.5" cy="522.2" r="8.2"/></g><g class="K"><path d="M725,355.3V383.5" stroke-width="4.5"/><path d="M715.65,355.3h18.7M715.65,383.5h18.7" stroke-width="4.0"/><circle cx="725" cy="370.4" r="8.2"/></g><g class="K"><path d="M845,343.7V400.6" stroke-width="4.5"/><path d="M835.65,343.7h18.7M835.65,400.6h18.7" stroke-width="4.0"/><circle cx="845" cy="372.2" r="8.2"/></g><g class="K"><path d="M976.5,407.6V439.8" stroke-width="4.5"/><path d="M967.15,407.6h18.7M967.15,439.8h18.7" stroke-width="4.0"/><circle cx="976.5" cy="424.4" r="8.2"/></g><g class="K"><path d="M1096.2,521V528.4" stroke-width="4.5"/><path d="M1086.85,521h18.7M1086.85,528.4h18.7" stroke-width="4.0"/><circle cx="1096.2" cy="524.7" r="8.2"/></g><g class="K"><path d="M1172.5,543V548.2" stroke-width="4.5"/><path d="M1163.15,543h18.7M1163.15,548.2h18.7" stroke-width="4.0"/><circle cx="1172.5" cy="545.6" r="8.2"/></g></g>
<path d="M705.2,339.4H1181.8" stroke="#000" stroke-width="2.8"/>
<text transform="translate(690.5,569.4) scale(1,1)" font-size="33.33" text-anchor="end">0</text>
<text transform="translate(690.5,351.8) scale(1,1)" font-size="33.33" text-anchor="end">1</text>
<text transform="translate(690.5,134.6) scale(1,1)" font-size="33.33" text-anchor="end">2</text>
<text transform="translate(646.3,332.6) rotate(-90) scale(1,1)" font-size="33.33" text-anchor="middle">Survival fraction</text>
<defs><clipPath id="cpc0"><rect x="1323.2" y="99" width="278.80" height="240.50"/></clipPath><clipPath id="cpc1"><rect x="1602" y="339.5" width="204.00" height="224.40"/></clipPath></defs>
<rect x="1323.2" y="99" width="278.80" height="240.50" fill="#dadcec"/>
<rect x="1602" y="339.5" width="204.00" height="224.40" fill="#faeddb"/>
<g class="n"><g class="A" stroke-width="3.8"><path d="M1327.1,101.8V567.70"/><path d="M1325.20,565.8H1794.8" stroke-width="3.8"/><path d="M1320.00,557.00H1327.1M1320.00,339.50H1327.1M1320.00,121.40H1327.1" stroke-width="4.2"/><path d="M1344.50,565.8v6.50M1464.69,565.8v6.50M1596.40,565.8v6.50M1716.59,565.8v6.50M1792.42,565.8v6.50M1332.97,565.8v4.00M1420.33,565.8v4.00M1496.16,565.8v4.00M1520.57,565.8v4.00M1540.52,565.8v4.00M1557.38,565.8v4.00M1571.99,565.8v4.00M1584.87,565.8v4.00M1672.23,565.8v4.00M1748.06,565.8v4.00M1772.47,565.8v4.00" stroke-width="4.1"/></g><path class="R C" d="M1344.5,329.6 L1347.3,329.6 L1350.1,329.6 L1353.0,329.6 L1355.8,329.6 L1358.6,329.6 L1361.4,329.6 L1364.2,329.6 L1367.0,329.6 L1369.9,329.6 L1372.7,329.6 L1375.5,329.6 L1378.3,329.6 L1381.1,329.6 L1384.0,329.6 L1386.8,329.6 L1389.6,329.6 L1392.4,329.6 L1395.2,329.6 L1398.0,329.6 L1400.9,329.6 L1403.7,329.6 L1406.5,329.6 L1409.3,329.6 L1412.1,329.6 L1415.0,329.6 L1417.8,329.6 L1420.6,329.6 L1423.4,329.6 L1426.2,329.6 L1429.0,329.6 L1431.9,329.6 L1434.7,329.6 L1437.5,329.6 L1440.3,329.6 L1443.1,329.6 L1446.0,329.6 L1448.8,329.7 L1451.6,329.7 L1454.4,329.7 L1457.2,329.7 L1460.0,329.7 L1462.9,329.7 L1465.7,329.7 L1468.5,329.7 L1471.3,329.7 L1474.1,329.7 L1477.0,329.7 L1479.8,329.8 L1482.6,329.8 L1485.4,329.8 L1488.2,329.8 L1491.0,329.9 L1493.9,329.9 L1496.7,329.9 L1499.5,330.0 L1502.3,330.0 L1505.1,330.1 L1508.0,330.1 L1510.8,330.2 L1513.6,330.2 L1516.4,330.3 L1519.2,330.4 L1522.0,330.5 L1524.9,330.6 L1527.7,330.7 L1530.5,330.8 L1533.3,331.0 L1536.1,331.1 L1539.0,331.3 L1541.8,331.5 L1544.6,331.7 L1547.4,332.0 L1550.2,332.3 L1553.0,332.6 L1555.9,332.9 L1558.7,333.3 L1561.5,333.8 L1564.3,334.3 L1567.1,334.8 L1570.0,335.4 L1572.8,336.1 L1575.6,336.8 L1578.4,337.7 L1581.2,338.6 L1584.1,339.6 L1586.9,340.7 L1589.7,342.0 L1592.5,343.4 L1595.3,344.9 L1598.1,346.6 L1601.0,348.4 L1603.8,350.5 L1606.6,352.7 L1609.4,355.1 L1612.2,357.8 L1615.1,360.6 L1617.9,363.7 L1620.7,367.1 L1623.5,370.7 L1626.3,374.6 L1629.1,378.7 L1632.0,383.1 L1634.8,387.7 L1637.6,392.6 L1640.4,397.7 L1643.2,403.0 L1646.1,408.5 L1648.9,414.2 L1651.7,420.0 L1654.5,425.9 L1657.3,431.8 L1660.1,437.8 L1663.0,443.7 L1665.8,449.6 L1668.6,455.4 L1671.4,461.1 L1674.2,466.7 L1677.1,472.0 L1679.9,477.2 L1682.7,482.1 L1685.5,486.8 L1688.3,491.2 L1691.1,495.4 L1694.0,499.3 L1696.8,503.0 L1699.6,506.4 L1702.4,509.5 L1705.2,512.5 L1708.1,515.2 L1710.9,517.6 L1713.7,519.9 L1716.5,521.9 L1719.3,523.8 L1722.1,525.5 L1725.0,527.1 L1727.8,528.5 L1730.6,529.8 L1733.4,530.9 L1736.2,532.0 L1739.1,532.9 L1741.9,533.8 L1744.7,534.5 L1747.5,535.2 L1750.3,535.8 L1753.1,536.4 L1756.0,536.9 L1758.8,537.3 L1761.6,537.8 L1764.4,538.1 L1767.2,538.4 L1770.1,538.7 L1772.9,539.0 L1775.7,539.2 L1778.5,539.4 L1781.3,539.6 L1784.1,539.8 L1787.0,539.9 L1789.8,540.1 L1792.6,540.2" stroke-width="4.1" stroke-dasharray="17 15.3" stroke-dashoffset="0"/><path class="K C" d="M1344.5,244.3 L1347.3,244.3 L1350.1,244.3 L1353.0,244.3 L1355.8,244.3 L1358.6,244.4 L1361.4,244.4 L1364.2,244.4 L1367.0,244.4 L1369.9,244.5 L1372.7,244.5 L1375.5,244.5 L1378.3,244.6 L1381.1,244.6 L1384.0,244.7 L1386.8,244.7 L1389.6,244.8 L1392.4,244.8 L1395.2,244.9 L1398.0,244.9 L1400.9,245.0 L1403.7,245.1 L1406.5,245.1 L1409.3,245.2 L1412.1,245.3 L1415.0,245.4 L1417.8,245.5 L1420.6,245.6 L1423.4,245.7 L1426.2,245.8 L1429.0,246.0 L1431.9,246.1 L1434.7,246.3 L1437.5,246.4 L1440.3,246.6 L1443.1,246.8 L1446.0,247.0 L1448.8,247.2 L1451.6,247.4 L1454.4,247.6 L1457.2,247.9 L1460.0,248.2 L1462.9,248.5 L1465.7,248.8 L1468.5,249.1 L1471.3,249.5 L1474.1,249.9 L1477.0,250.3 L1479.8,250.7 L1482.6,251.2 L1485.4,251.7 L1488.2,252.3 L1491.0,252.8 L1493.9,253.4 L1496.7,254.1 L1499.5,254.8 L1502.3,255.5 L1505.1,256.3 L1508.0,257.2 L1510.8,258.1 L1513.6,259.0 L1516.4,260.1 L1519.2,261.1 L1522.0,262.3 L1524.9,263.5 L1527.7,264.8 L1530.5,266.2 L1533.3,267.6 L1536.1,269.1 L1539.0,270.7 L1541.8,272.5 L1544.6,274.2 L1547.4,276.1 L1550.2,278.1 L1553.0,280.2 L1555.9,282.4 L1558.7,284.7 L1561.5,287.1 L1564.3,289.7 L1567.1,292.3 L1570.0,295.0 L1572.8,297.9 L1575.6,300.8 L1578.4,303.9 L1581.2,307.1 L1584.1,310.4 L1586.9,313.7 L1589.7,317.2 L1592.5,320.8 L1595.3,324.4 L1598.1,328.1 L1601.0,331.9 L1603.8,335.8 L1606.6,339.7 L1609.4,343.7 L1612.2,347.7 L1615.1,351.7 L1617.9,355.8 L1620.7,359.8 L1623.5,363.9 L1626.3,368.0 L1629.1,372.0 L1632.0,376.0 L1634.8,380.0 L1637.6,383.9 L1640.4,387.8 L1643.2,391.6 L1646.1,395.3 L1648.9,398.9 L1651.7,402.5 L1654.5,406.0 L1657.3,409.3 L1660.1,412.6 L1663.0,415.8 L1665.8,418.9 L1668.6,421.8 L1671.4,424.7 L1674.2,427.4 L1677.1,430.0 L1679.9,432.5 L1682.7,435.0 L1685.5,437.3 L1688.3,439.5 L1691.1,441.6 L1694.0,443.5 L1696.8,445.4 L1699.6,447.2 L1702.4,448.9 L1705.2,450.6 L1708.1,452.1 L1710.9,453.5 L1713.7,454.9 L1716.5,456.2 L1719.3,457.4 L1722.1,458.6 L1725.0,459.6 L1727.8,460.7 L1730.6,461.6 L1733.4,462.5 L1736.2,463.4 L1739.1,464.1 L1741.9,464.9 L1744.7,465.6 L1747.5,466.2 L1750.3,466.9 L1753.1,467.4 L1756.0,468.0 L1758.8,468.5 L1761.6,469.0 L1764.4,469.4 L1767.2,469.8 L1770.1,470.2 L1772.9,470.6 L1775.7,470.9 L1778.5,471.2 L1781.3,471.5 L1784.1,471.8 L1787.0,472.0 L1789.8,472.3 L1792.6,472.5" stroke-width="4.1" stroke-dasharray="17 15.3" stroke-dashoffset="0"/><g class="R"><path d="M1344.9,265.3V401.3" stroke-width="4.5"/><path d="M1335.55,265.3h18.7M1335.55,401.3h18.7" stroke-width="4.0"/><circle cx="1344.9" cy="332.2" r="8.2"/></g><g class="R"><path d="M1465,278.9V378.1" stroke-width="4.5"/><path d="M1455.65,278.9h18.7M1455.65,378.1h18.7" stroke-width="4.0"/><circle cx="1465" cy="327.7" r="8.2"/></g><g class="R"><path d="M1596.4,289.2V397" stroke-width="4.5"/><path d="M1587.05,289.2h18.7M1587.05,397h18.7" stroke-width="4.0"/><circle cx="1596.4" cy="341" r="8.2"/></g><g class="R"><path d="M1716.5,522.4V533.6" stroke-width="4.5"/><path d="M1707.15,522.4h18.7M1707.15,533.6h18.7" stroke-width="4.0"/><circle cx="1716.5" cy="528" r="8.2"/></g><g class="R"><path d="M1792.6,533.9V541.5" stroke-width="4.5"/><path d="M1783.25,533.9h18.7M1783.25,541.5h18.7" stroke-width="4.0"/><circle cx="1792.6" cy="537.7" r="8.2"/></g><g class="K"><path d="M1344.9,164.5V285.2" stroke-width="4.5"/><path d="M1335.55,164.5h18.7M1335.55,285.2h18.7" stroke-width="4.0"/><circle cx="1344.9" cy="224.2" r="8.2"/></g><g class="K"><path d="M1465,211.1V332" stroke-width="4.5"/><path d="M1455.65,211.1h18.7M1455.65,332h18.7" stroke-width="4.0"/><circle cx="1465" cy="271.3" r="8.2"/></g><g class="K"><path d="M1596.4,296V346.1" stroke-width="4.5"/><path d="M1587.05,296h18.7M1587.05,346.1h18.7" stroke-width="4.0"/><circle cx="1596.4" cy="321.4" r="8.2"/></g><g class="K"><path d="M1716.5,415.9V516" stroke-width="4.5"/><path d="M1707.15,415.9h18.7M1707.15,516h18.7" stroke-width="4.0"/><circle cx="1716.5" cy="465.6" r="8.2"/></g><g class="K"><path d="M1792.6,444.8V487.8" stroke-width="4.5"/><path d="M1783.25,444.8h18.7M1783.25,487.8h18.7" stroke-width="4.0"/><circle cx="1792.6" cy="466.4" r="8.2"/></g></g>
<g class="l" clip-path="url(#cpc0)"><g class="A" stroke-width="3.8"><path d="M1327.1,101.8V567.70"/><path d="M1325.20,565.8H1794.8" stroke-width="3.8"/><path d="M1320.00,557.00H1327.1M1320.00,339.50H1327.1M1320.00,121.40H1327.1" stroke-width="4.2"/><path d="M1344.50,565.8v6.50M1464.69,565.8v6.50M1596.40,565.8v6.50M1716.59,565.8v6.50M1792.42,565.8v6.50M1332.97,565.8v4.00M1420.33,565.8v4.00M1496.16,565.8v4.00M1520.57,565.8v4.00M1540.52,565.8v4.00M1557.38,565.8v4.00M1571.99,565.8v4.00M1584.87,565.8v4.00M1672.23,565.8v4.00M1748.06,565.8v4.00M1772.47,565.8v4.00" stroke-width="4.1"/></g><path class="R C" d="M1344.5,329.6 L1347.3,329.6 L1350.1,329.6 L1353.0,329.6 L1355.8,329.6 L1358.6,329.6 L1361.4,329.6 L1364.2,329.6 L1367.0,329.6 L1369.9,329.6 L1372.7,329.6 L1375.5,329.6 L1378.3,329.6 L1381.1,329.6 L1384.0,329.6 L1386.8,329.6 L1389.6,329.6 L1392.4,329.6 L1395.2,329.6 L1398.0,329.6 L1400.9,329.6 L1403.7,329.6 L1406.5,329.6 L1409.3,329.6 L1412.1,329.6 L1415.0,329.6 L1417.8,329.6 L1420.6,329.6 L1423.4,329.6 L1426.2,329.6 L1429.0,329.6 L1431.9,329.6 L1434.7,329.6 L1437.5,329.6 L1440.3,329.6 L1443.1,329.6 L1446.0,329.6 L1448.8,329.7 L1451.6,329.7 L1454.4,329.7 L1457.2,329.7 L1460.0,329.7 L1462.9,329.7 L1465.7,329.7 L1468.5,329.7 L1471.3,329.7 L1474.1,329.7 L1477.0,329.7 L1479.8,329.8 L1482.6,329.8 L1485.4,329.8 L1488.2,329.8 L1491.0,329.9 L1493.9,329.9 L1496.7,329.9 L1499.5,330.0 L1502.3,330.0 L1505.1,330.1 L1508.0,330.1 L1510.8,330.2 L1513.6,330.2 L1516.4,330.3 L1519.2,330.4 L1522.0,330.5 L1524.9,330.6 L1527.7,330.7 L1530.5,330.8 L1533.3,331.0 L1536.1,331.1 L1539.0,331.3 L1541.8,331.5 L1544.6,331.7 L1547.4,332.0 L1550.2,332.3 L1553.0,332.6 L1555.9,332.9 L1558.7,333.3 L1561.5,333.8 L1564.3,334.3 L1567.1,334.8 L1570.0,335.4 L1572.8,336.1 L1575.6,336.8 L1578.4,337.7 L1581.2,338.6 L1584.1,339.6 L1586.9,340.7 L1589.7,342.0 L1592.5,343.4 L1595.3,344.9 L1598.1,346.6 L1601.0,348.4 L1603.8,350.5 L1606.6,352.7 L1609.4,355.1 L1612.2,357.8 L1615.1,360.6 L1617.9,363.7 L1620.7,367.1 L1623.5,370.7 L1626.3,374.6 L1629.1,378.7 L1632.0,383.1 L1634.8,387.7 L1637.6,392.6 L1640.4,397.7 L1643.2,403.0 L1646.1,408.5 L1648.9,414.2 L1651.7,420.0 L1654.5,425.9 L1657.3,431.8 L1660.1,437.8 L1663.0,443.7 L1665.8,449.6 L1668.6,455.4 L1671.4,461.1 L1674.2,466.7 L1677.1,472.0 L1679.9,477.2 L1682.7,482.1 L1685.5,486.8 L1688.3,491.2 L1691.1,495.4 L1694.0,499.3 L1696.8,503.0 L1699.6,506.4 L1702.4,509.5 L1705.2,512.5 L1708.1,515.2 L1710.9,517.6 L1713.7,519.9 L1716.5,521.9 L1719.3,523.8 L1722.1,525.5 L1725.0,527.1 L1727.8,528.5 L1730.6,529.8 L1733.4,530.9 L1736.2,532.0 L1739.1,532.9 L1741.9,533.8 L1744.7,534.5 L1747.5,535.2 L1750.3,535.8 L1753.1,536.4 L1756.0,536.9 L1758.8,537.3 L1761.6,537.8 L1764.4,538.1 L1767.2,538.4 L1770.1,538.7 L1772.9,539.0 L1775.7,539.2 L1778.5,539.4 L1781.3,539.6 L1784.1,539.8 L1787.0,539.9 L1789.8,540.1 L1792.6,540.2" stroke-width="4.1" stroke-dasharray="17 15.3" stroke-dashoffset="0"/><path class="K C" d="M1344.5,244.3 L1347.3,244.3 L1350.1,244.3 L1353.0,244.3 L1355.8,244.3 L1358.6,244.4 L1361.4,244.4 L1364.2,244.4 L1367.0,244.4 L1369.9,244.5 L1372.7,244.5 L1375.5,244.5 L1378.3,244.6 L1381.1,244.6 L1384.0,244.7 L1386.8,244.7 L1389.6,244.8 L1392.4,244.8 L1395.2,244.9 L1398.0,244.9 L1400.9,245.0 L1403.7,245.1 L1406.5,245.1 L1409.3,245.2 L1412.1,245.3 L1415.0,245.4 L1417.8,245.5 L1420.6,245.6 L1423.4,245.7 L1426.2,245.8 L1429.0,246.0 L1431.9,246.1 L1434.7,246.3 L1437.5,246.4 L1440.3,246.6 L1443.1,246.8 L1446.0,247.0 L1448.8,247.2 L1451.6,247.4 L1454.4,247.6 L1457.2,247.9 L1460.0,248.2 L1462.9,248.5 L1465.7,248.8 L1468.5,249.1 L1471.3,249.5 L1474.1,249.9 L1477.0,250.3 L1479.8,250.7 L1482.6,251.2 L1485.4,251.7 L1488.2,252.3 L1491.0,252.8 L1493.9,253.4 L1496.7,254.1 L1499.5,254.8 L1502.3,255.5 L1505.1,256.3 L1508.0,257.2 L1510.8,258.1 L1513.6,259.0 L1516.4,260.1 L1519.2,261.1 L1522.0,262.3 L1524.9,263.5 L1527.7,264.8 L1530.5,266.2 L1533.3,267.6 L1536.1,269.1 L1539.0,270.7 L1541.8,272.5 L1544.6,274.2 L1547.4,276.1 L1550.2,278.1 L1553.0,280.2 L1555.9,282.4 L1558.7,284.7 L1561.5,287.1 L1564.3,289.7 L1567.1,292.3 L1570.0,295.0 L1572.8,297.9 L1575.6,300.8 L1578.4,303.9 L1581.2,307.1 L1584.1,310.4 L1586.9,313.7 L1589.7,317.2 L1592.5,320.8 L1595.3,324.4 L1598.1,328.1 L1601.0,331.9 L1603.8,335.8 L1606.6,339.7 L1609.4,343.7 L1612.2,347.7 L1615.1,351.7 L1617.9,355.8 L1620.7,359.8 L1623.5,363.9 L1626.3,368.0 L1629.1,372.0 L1632.0,376.0 L1634.8,380.0 L1637.6,383.9 L1640.4,387.8 L1643.2,391.6 L1646.1,395.3 L1648.9,398.9 L1651.7,402.5 L1654.5,406.0 L1657.3,409.3 L1660.1,412.6 L1663.0,415.8 L1665.8,418.9 L1668.6,421.8 L1671.4,424.7 L1674.2,427.4 L1677.1,430.0 L1679.9,432.5 L1682.7,435.0 L1685.5,437.3 L1688.3,439.5 L1691.1,441.6 L1694.0,443.5 L1696.8,445.4 L1699.6,447.2 L1702.4,448.9 L1705.2,450.6 L1708.1,452.1 L1710.9,453.5 L1713.7,454.9 L1716.5,456.2 L1719.3,457.4 L1722.1,458.6 L1725.0,459.6 L1727.8,460.7 L1730.6,461.6 L1733.4,462.5 L1736.2,463.4 L1739.1,464.1 L1741.9,464.9 L1744.7,465.6 L1747.5,466.2 L1750.3,466.9 L1753.1,467.4 L1756.0,468.0 L1758.8,468.5 L1761.6,469.0 L1764.4,469.4 L1767.2,469.8 L1770.1,470.2 L1772.9,470.6 L1775.7,470.9 L1778.5,471.2 L1781.3,471.5 L1784.1,471.8 L1787.0,472.0 L1789.8,472.3 L1792.6,472.5" stroke-width="4.1" stroke-dasharray="17 15.3" stroke-dashoffset="0"/><g class="R"><path d="M1344.9,265.3V401.3" stroke-width="4.5"/><path d="M1335.55,265.3h18.7M1335.55,401.3h18.7" stroke-width="4.0"/><circle cx="1344.9" cy="332.2" r="8.2"/></g><g class="R"><path d="M1465,278.9V378.1" stroke-width="4.5"/><path d="M1455.65,278.9h18.7M1455.65,378.1h18.7" stroke-width="4.0"/><circle cx="1465" cy="327.7" r="8.2"/></g><g class="R"><path d="M1596.4,289.2V397" stroke-width="4.5"/><path d="M1587.05,289.2h18.7M1587.05,397h18.7" stroke-width="4.0"/><circle cx="1596.4" cy="341" r="8.2"/></g><g class="R"><path d="M1716.5,522.4V533.6" stroke-width="4.5"/><path d="M1707.15,522.4h18.7M1707.15,533.6h18.7" stroke-width="4.0"/><circle cx="1716.5" cy="528" r="8.2"/></g><g class="R"><path d="M1792.6,533.9V541.5" stroke-width="4.5"/><path d="M1783.25,533.9h18.7M1783.25,541.5h18.7" stroke-width="4.0"/><circle cx="1792.6" cy="537.7" r="8.2"/></g><g class="K"><path d="M1344.9,164.5V285.2" stroke-width="4.5"/><path d="M1335.55,164.5h18.7M1335.55,285.2h18.7" stroke-width="4.0"/><circle cx="1344.9" cy="224.2" r="8.2"/></g><g class="K"><path d="M1465,211.1V332" stroke-width="4.5"/><path d="M1455.65,211.1h18.7M1455.65,332h18.7" stroke-width="4.0"/><circle cx="1465" cy="271.3" r="8.2"/></g><g class="K"><path d="M1596.4,296V346.1" stroke-width="4.5"/><path d="M1587.05,296h18.7M1587.05,346.1h18.7" stroke-width="4.0"/><circle cx="1596.4" cy="321.4" r="8.2"/></g><g class="K"><path d="M1716.5,415.9V516" stroke-width="4.5"/><path d="M1707.15,415.9h18.7M1707.15,516h18.7" stroke-width="4.0"/><circle cx="1716.5" cy="465.6" r="8.2"/></g><g class="K"><path d="M1792.6,444.8V487.8" stroke-width="4.5"/><path d="M1783.25,444.8h18.7M1783.25,487.8h18.7" stroke-width="4.0"/><circle cx="1792.6" cy="466.4" r="8.2"/></g></g>
<g class="b" clip-path="url(#cpc1)"><g class="A" stroke-width="3.8"><path d="M1327.1,101.8V567.70"/><path d="M1325.20,565.8H1794.8" stroke-width="3.8"/><path d="M1320.00,557.00H1327.1M1320.00,339.50H1327.1M1320.00,121.40H1327.1" stroke-width="4.2"/><path d="M1344.50,565.8v6.50M1464.69,565.8v6.50M1596.40,565.8v6.50M1716.59,565.8v6.50M1792.42,565.8v6.50M1332.97,565.8v4.00M1420.33,565.8v4.00M1496.16,565.8v4.00M1520.57,565.8v4.00M1540.52,565.8v4.00M1557.38,565.8v4.00M1571.99,565.8v4.00M1584.87,565.8v4.00M1672.23,565.8v4.00M1748.06,565.8v4.00M1772.47,565.8v4.00" stroke-width="4.1"/></g><path class="R C" d="M1344.5,329.6 L1347.3,329.6 L1350.1,329.6 L1353.0,329.6 L1355.8,329.6 L1358.6,329.6 L1361.4,329.6 L1364.2,329.6 L1367.0,329.6 L1369.9,329.6 L1372.7,329.6 L1375.5,329.6 L1378.3,329.6 L1381.1,329.6 L1384.0,329.6 L1386.8,329.6 L1389.6,329.6 L1392.4,329.6 L1395.2,329.6 L1398.0,329.6 L1400.9,329.6 L1403.7,329.6 L1406.5,329.6 L1409.3,329.6 L1412.1,329.6 L1415.0,329.6 L1417.8,329.6 L1420.6,329.6 L1423.4,329.6 L1426.2,329.6 L1429.0,329.6 L1431.9,329.6 L1434.7,329.6 L1437.5,329.6 L1440.3,329.6 L1443.1,329.6 L1446.0,329.6 L1448.8,329.7 L1451.6,329.7 L1454.4,329.7 L1457.2,329.7 L1460.0,329.7 L1462.9,329.7 L1465.7,329.7 L1468.5,329.7 L1471.3,329.7 L1474.1,329.7 L1477.0,329.7 L1479.8,329.8 L1482.6,329.8 L1485.4,329.8 L1488.2,329.8 L1491.0,329.9 L1493.9,329.9 L1496.7,329.9 L1499.5,330.0 L1502.3,330.0 L1505.1,330.1 L1508.0,330.1 L1510.8,330.2 L1513.6,330.2 L1516.4,330.3 L1519.2,330.4 L1522.0,330.5 L1524.9,330.6 L1527.7,330.7 L1530.5,330.8 L1533.3,331.0 L1536.1,331.1 L1539.0,331.3 L1541.8,331.5 L1544.6,331.7 L1547.4,332.0 L1550.2,332.3 L1553.0,332.6 L1555.9,332.9 L1558.7,333.3 L1561.5,333.8 L1564.3,334.3 L1567.1,334.8 L1570.0,335.4 L1572.8,336.1 L1575.6,336.8 L1578.4,337.7 L1581.2,338.6 L1584.1,339.6 L1586.9,340.7 L1589.7,342.0 L1592.5,343.4 L1595.3,344.9 L1598.1,346.6 L1601.0,348.4 L1603.8,350.5 L1606.6,352.7 L1609.4,355.1 L1612.2,357.8 L1615.1,360.6 L1617.9,363.7 L1620.7,367.1 L1623.5,370.7 L1626.3,374.6 L1629.1,378.7 L1632.0,383.1 L1634.8,387.7 L1637.6,392.6 L1640.4,397.7 L1643.2,403.0 L1646.1,408.5 L1648.9,414.2 L1651.7,420.0 L1654.5,425.9 L1657.3,431.8 L1660.1,437.8 L1663.0,443.7 L1665.8,449.6 L1668.6,455.4 L1671.4,461.1 L1674.2,466.7 L1677.1,472.0 L1679.9,477.2 L1682.7,482.1 L1685.5,486.8 L1688.3,491.2 L1691.1,495.4 L1694.0,499.3 L1696.8,503.0 L1699.6,506.4 L1702.4,509.5 L1705.2,512.5 L1708.1,515.2 L1710.9,517.6 L1713.7,519.9 L1716.5,521.9 L1719.3,523.8 L1722.1,525.5 L1725.0,527.1 L1727.8,528.5 L1730.6,529.8 L1733.4,530.9 L1736.2,532.0 L1739.1,532.9 L1741.9,533.8 L1744.7,534.5 L1747.5,535.2 L1750.3,535.8 L1753.1,536.4 L1756.0,536.9 L1758.8,537.3 L1761.6,537.8 L1764.4,538.1 L1767.2,538.4 L1770.1,538.7 L1772.9,539.0 L1775.7,539.2 L1778.5,539.4 L1781.3,539.6 L1784.1,539.8 L1787.0,539.9 L1789.8,540.1 L1792.6,540.2" stroke-width="4.1" stroke-dasharray="17 15.3" stroke-dashoffset="0"/><path class="K C" d="M1344.5,244.3 L1347.3,244.3 L1350.1,244.3 L1353.0,244.3 L1355.8,244.3 L1358.6,244.4 L1361.4,244.4 L1364.2,244.4 L1367.0,244.4 L1369.9,244.5 L1372.7,244.5 L1375.5,244.5 L1378.3,244.6 L1381.1,244.6 L1384.0,244.7 L1386.8,244.7 L1389.6,244.8 L1392.4,244.8 L1395.2,244.9 L1398.0,244.9 L1400.9,245.0 L1403.7,245.1 L1406.5,245.1 L1409.3,245.2 L1412.1,245.3 L1415.0,245.4 L1417.8,245.5 L1420.6,245.6 L1423.4,245.7 L1426.2,245.8 L1429.0,246.0 L1431.9,246.1 L1434.7,246.3 L1437.5,246.4 L1440.3,246.6 L1443.1,246.8 L1446.0,247.0 L1448.8,247.2 L1451.6,247.4 L1454.4,247.6 L1457.2,247.9 L1460.0,248.2 L1462.9,248.5 L1465.7,248.8 L1468.5,249.1 L1471.3,249.5 L1474.1,249.9 L1477.0,250.3 L1479.8,250.7 L1482.6,251.2 L1485.4,251.7 L1488.2,252.3 L1491.0,252.8 L1493.9,253.4 L1496.7,254.1 L1499.5,254.8 L1502.3,255.5 L1505.1,256.3 L1508.0,257.2 L1510.8,258.1 L1513.6,259.0 L1516.4,260.1 L1519.2,261.1 L1522.0,262.3 L1524.9,263.5 L1527.7,264.8 L1530.5,266.2 L1533.3,267.6 L1536.1,269.1 L1539.0,270.7 L1541.8,272.5 L1544.6,274.2 L1547.4,276.1 L1550.2,278.1 L1553.0,280.2 L1555.9,282.4 L1558.7,284.7 L1561.5,287.1 L1564.3,289.7 L1567.1,292.3 L1570.0,295.0 L1572.8,297.9 L1575.6,300.8 L1578.4,303.9 L1581.2,307.1 L1584.1,310.4 L1586.9,313.7 L1589.7,317.2 L1592.5,320.8 L1595.3,324.4 L1598.1,328.1 L1601.0,331.9 L1603.8,335.8 L1606.6,339.7 L1609.4,343.7 L1612.2,347.7 L1615.1,351.7 L1617.9,355.8 L1620.7,359.8 L1623.5,363.9 L1626.3,368.0 L1629.1,372.0 L1632.0,376.0 L1634.8,380.0 L1637.6,383.9 L1640.4,387.8 L1643.2,391.6 L1646.1,395.3 L1648.9,398.9 L1651.7,402.5 L1654.5,406.0 L1657.3,409.3 L1660.1,412.6 L1663.0,415.8 L1665.8,418.9 L1668.6,421.8 L1671.4,424.7 L1674.2,427.4 L1677.1,430.0 L1679.9,432.5 L1682.7,435.0 L1685.5,437.3 L1688.3,439.5 L1691.1,441.6 L1694.0,443.5 L1696.8,445.4 L1699.6,447.2 L1702.4,448.9 L1705.2,450.6 L1708.1,452.1 L1710.9,453.5 L1713.7,454.9 L1716.5,456.2 L1719.3,457.4 L1722.1,458.6 L1725.0,459.6 L1727.8,460.7 L1730.6,461.6 L1733.4,462.5 L1736.2,463.4 L1739.1,464.1 L1741.9,464.9 L1744.7,465.6 L1747.5,466.2 L1750.3,466.9 L1753.1,467.4 L1756.0,468.0 L1758.8,468.5 L1761.6,469.0 L1764.4,469.4 L1767.2,469.8 L1770.1,470.2 L1772.9,470.6 L1775.7,470.9 L1778.5,471.2 L1781.3,471.5 L1784.1,471.8 L1787.0,472.0 L1789.8,472.3 L1792.6,472.5" stroke-width="4.1" stroke-dasharray="17 15.3" stroke-dashoffset="0"/><g class="R"><path d="M1344.9,265.3V401.3" stroke-width="4.5"/><path d="M1335.55,265.3h18.7M1335.55,401.3h18.7" stroke-width="4.0"/><circle cx="1344.9" cy="332.2" r="8.2"/></g><g class="R"><path d="M1465,278.9V378.1" stroke-width="4.5"/><path d="M1455.65,278.9h18.7M1455.65,378.1h18.7" stroke-width="4.0"/><circle cx="1465" cy="327.7" r="8.2"/></g><g class="R"><path d="M1596.4,289.2V397" stroke-width="4.5"/><path d="M1587.05,289.2h18.7M1587.05,397h18.7" stroke-width="4.0"/><circle cx="1596.4" cy="341" r="8.2"/></g><g class="R"><path d="M1716.5,522.4V533.6" stroke-width="4.5"/><path d="M1707.15,522.4h18.7M1707.15,533.6h18.7" stroke-width="4.0"/><circle cx="1716.5" cy="528" r="8.2"/></g><g class="R"><path d="M1792.6,533.9V541.5" stroke-width="4.5"/><path d="M1783.25,533.9h18.7M1783.25,541.5h18.7" stroke-width="4.0"/><circle cx="1792.6" cy="537.7" r="8.2"/></g><g class="K"><path d="M1344.9,164.5V285.2" stroke-width="4.5"/><path d="M1335.55,164.5h18.7M1335.55,285.2h18.7" stroke-width="4.0"/><circle cx="1344.9" cy="224.2" r="8.2"/></g><g class="K"><path d="M1465,211.1V332" stroke-width="4.5"/><path d="M1455.65,211.1h18.7M1455.65,332h18.7" stroke-width="4.0"/><circle cx="1465" cy="271.3" r="8.2"/></g><g class="K"><path d="M1596.4,296V346.1" stroke-width="4.5"/><path d="M1587.05,296h18.7M1587.05,346.1h18.7" stroke-width="4.0"/><circle cx="1596.4" cy="321.4" r="8.2"/></g><g class="K"><path d="M1716.5,415.9V516" stroke-width="4.5"/><path d="M1707.15,415.9h18.7M1707.15,516h18.7" stroke-width="4.0"/><circle cx="1716.5" cy="465.6" r="8.2"/></g><g class="K"><path d="M1792.6,444.8V487.8" stroke-width="4.5"/><path d="M1783.25,444.8h18.7M1783.25,487.8h18.7" stroke-width="4.0"/><circle cx="1792.6" cy="466.4" r="8.2"/></g></g>
<path d="M1325.1,339.5H1806" stroke="#000" stroke-width="2.8"/>
<text transform="translate(1309.5,569.4) scale(1,1)" font-size="33.33" text-anchor="end">0</text>
<text transform="translate(1309.5,351.9) scale(1,1)" font-size="33.33" text-anchor="end">1</text>
<text transform="translate(1309.5,133.8) scale(1,1)" font-size="33.33" text-anchor="end">2</text>
<text transform="translate(1266.2,332.6) rotate(-90) scale(1,1)" font-size="33.33" text-anchor="middle">Survival fraction</text>
<text transform="translate(-1.2,30.3) scale(1,1)" font-size="41.67" font-weight="bold">a</text>
<text transform="translate(617,30.3) scale(1,1)" font-size="41.67" font-weight="bold">b</text>
<text transform="translate(1236.5,30.8) scale(1,1)" font-size="41.67" font-weight="bold">c</text>
<text transform="translate(331.6,37.3) scale(1,1)" font-size="33.33" text-anchor="middle">Cisplatin (chemotherapy)</text>
<text transform="translate(956,37.3) scale(1,1)" font-size="33.33" text-anchor="middle">Verteporfin + light (PDT)</text>
<text transform="translate(1560.6,37.3) scale(1,1)" font-size="33.33" text-anchor="middle">Cetuximab-Verteporfin</text>
<text transform="translate(1565.2,76.8) scale(1,1)" font-size="33.33" text-anchor="middle">+ light (PIT)</text>
<text transform="translate(76.8,618.5) scale(1,1)" font-size="33.33">10<tspan font-size="24" dy="-12.4">0</tspan></text>
<text transform="translate(258.8,620.3) scale(1,1)" font-size="33.33">10<tspan font-size="24" dy="-12.4">1</tspan></text>
<text transform="translate(441.3,621.2) scale(1,1)" font-size="33.33">10<tspan font-size="24" dy="-12.4">2</tspan></text>
<text transform="translate(724.6,612.8) scale(1,1)" font-size="33.33" text-anchor="middle">1</text>
<text transform="translate(845.3,614.4) scale(1,1)" font-size="33.33" text-anchor="middle">3</text>
<text transform="translate(977.7,614.2) scale(1,1)" font-size="33.33" text-anchor="middle">10</text>
<text transform="translate(1097.2,614.2) scale(1,1)" font-size="33.33" text-anchor="middle">30</text>
<text transform="translate(1172.7,614.2) scale(1,1)" font-size="33.33" text-anchor="middle">60</text>
<text transform="translate(1345.3,611.6) scale(1,1)" font-size="33.33" text-anchor="middle">1</text>
<text transform="translate(1466,613.3) scale(1,1)" font-size="33.33" text-anchor="middle">3</text>
<text transform="translate(1598.8,612.4) scale(1,1)" font-size="33.33" text-anchor="middle">10</text>
<text transform="translate(1719.2,613) scale(1,1)" font-size="33.33" text-anchor="middle">30</text>
<text transform="translate(1794.1,613) scale(1,1)" font-size="33.33" text-anchor="middle">60</text>
<text transform="translate(271.8,666.6) scale(1,1)" font-size="33.33">Dose (<tspan font-family="'Liberation Serif', serif">µ</tspan>M)</text>
<text transform="translate(843.2,666.7) scale(1,1)" font-size="33.33">Dose (J/cm<tspan font-size="24" dy="-7.4">2</tspan><tspan dy="7.4">)</tspan></text>
<text transform="translate(1465,666.7) scale(1,1)" font-size="33.33">Dose (J/cm<tspan font-size="24" dy="-7.4">2</tspan><tspan dy="7.4">)</tspan></text>
<g class="n">
<g class="R"><path d="M267.4,93.4V121" stroke-width="4.9"/><path d="M258.10,93.4h18.6M258.10,121h18.6" stroke-width="3.9"/><circle cx="267.4" cy="106.6" r="7.4"/></g>
<path class="R" d="M224.9,167.1H306" stroke-width="4.6" stroke-dasharray="16.3 16"/>
<g class="K"><path d="M267.4,213.5V240.9" stroke-width="4.9"/><path d="M258.10,213.5h18.6M258.10,240.9h18.6" stroke-width="3.9"/><circle cx="267.4" cy="227.1" r="7.4"/></g>
<path class="K" d="M224.9,293.4H306" stroke-width="4.6" stroke-dasharray="16.3 16"/>
</g>
<text transform="translate(322.4,104.9) scale(1,1)" font-size="29.17">Tumour cells</text>
<text transform="translate(322.4,139.4) scale(1,1)" font-size="29.17">(Ovcar3 or Ovcar5)</text>
<text transform="translate(322.4,176.2) scale(1,1)" font-size="29.17">SF<tspan font-size="20.5" dy="9" dx="-1">C</tspan><tspan dy="-9" dx="-0.5"> fit</tspan></text>
<text transform="translate(322.4,223.5) scale(1,1)" font-size="29.17">T cells</text>
<text transform="translate(322.4,258.7) scale(1,1)" font-size="29.17">(Jurkat or OT-1)</text>
<text transform="translate(322.4,306) scale(1,1)" font-size="29.17">SF<tspan font-size="20.5" dy="9" dx="-1">E</tspan><tspan dy="-9" dx="-0.5"> fit</tspan></text>
</svg>
</body></html>
